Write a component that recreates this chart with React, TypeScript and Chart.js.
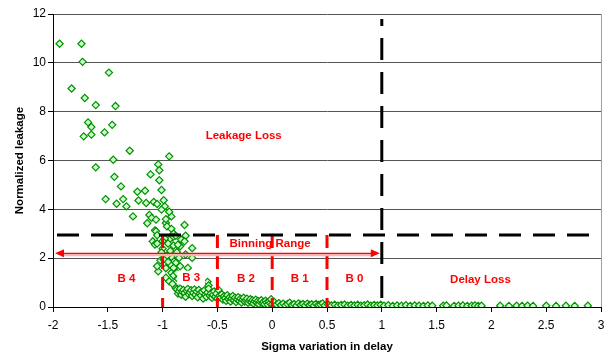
import React, { useEffect, useRef } from 'react';
import { Chart, registerables } from 'chart.js';
Chart.register(...registerables);

// ---------- data (sigma, normalized leakage) ----------
const tailPoints: [number, number][] = [
  [-1.94, 10.78], [-1.74, 10.78], [-1.73, 10.04], [-1.49, 9.6], [-1.83, 8.95], [-1.71, 8.56],
  [-1.61, 8.27], [-1.43, 8.23], [-1.68, 7.56], [-1.65, 7.37], [-1.72, 6.99], [-1.65, 7.06],
  [-1.53, 7.15], [-1.46, 7.46], [-1.3, 6.4], [-1.45, 6.03], [-0.94, 6.17], [-1.61, 5.72],
  [-1.04, 5.84], [-1.03, 5.6], [-1.11, 5.43], [-1.44, 5.33], [-1.38, 4.94], [-1.03, 5.19],
  [-1.01, 4.79], [-1.23, 4.72], [-1.16, 4.76], [-1.52, 4.42], [-1.36, 4.42], [-1.22, 4.36],
  [-1.42, 4.23], [-1.33, 4.12], [-1.15, 4.26], [-1.08, 4.3], [-1.05, 4.22], [-0.99, 4.37],
  [-0.98, 4.12], [-1.01, 3.99], [-1.27, 3.71], [-1.12, 3.77], [-1.1, 3.65], [-1.06, 3.58],
  [-1.14, 3.43], [-0.92, 3.71], [-0.97, 3.44], [-0.96, 3.3], [-1.07, 3.14], [-0.8, 3.36],
  [-0.97, 3.6], [-0.94, 3.9], [-0.92, 3.2],
];

const kneePoints: [number, number][] = [
  [-0.9, 3.0], [-0.79, 2.92], [-1.06, 3.1], [-1.05, 2.94], [-1.09, 2.69], [-1.07, 2.56],
  [-1.05, 2.6], [-1.0, 2.39], [-1.01, 2.24], [-1.02, 1.91], [-1.04, 1.46], [-0.97, 1.59],
  [-0.91, 2.85], [-0.88, 2.92], [-0.83, 2.76], [-0.94, 2.76], [-0.9, 2.52], [-0.84, 2.49],
  [-0.8, 2.69], [-0.73, 2.41], [-0.79, 2.15], [-0.73, 2.01], [-0.85, 2.01], [-0.92, 2.05],
  [-0.88, 1.81], [-0.84, 1.67], [-0.77, 1.6], [-0.93, 1.74], [-0.92, 1.4], [-0.9, 1.29],
  [-0.88, 0.78], [-0.8, 0.47], [-0.59, 1.03], [-0.58, 0.88], [-1.05, 1.67], [-0.98, 2.8],
  [-0.95, 2.6], [-0.93, 2.3], [-0.96, 2.1], [-0.99, 1.95], [-0.87, 2.25], [-0.86, 2.55],
  [-0.95, 1.85], [-0.9, 1.6], [-0.97, 1.2], [-0.94, 1.05], [-0.91, 0.95], [-0.85, 0.8],
  [-0.86, 1.15], [-0.87, 1.4], [-1.0, 2.7],
];

const bandPoints: [number, number][] = [
  [-0.87, 0.72], [-0.86, 0.55], [-0.85, 0.65], [-0.84, 0.75], [-0.83, 0.5], [-0.82, 0.62],
  [-0.81, 0.7], [-0.8, 0.58], [-0.79, 0.42], [-0.78, 0.66], [-0.77, 0.74], [-0.76, 0.52],
  [-0.75, 0.6], [-0.74, 0.69], [-0.73, 0.45], [-0.72, 0.58], [-0.71, 0.72], [-0.7, 0.5],
  [-0.69, 0.63], [-0.68, 0.4], [-0.67, 0.7], [-0.66, 0.55], [-0.65, 0.47], [-0.64, 0.62],
  [-0.63, 0.35], [-0.62, 0.68], [-0.61, 0.5], [-0.6, 0.42], [-0.59, 0.6], [-0.58, 0.75],
  [-0.57, 0.46], [-0.56, 0.55], [-0.55, 0.38], [-0.54, 0.5], [-0.53, 0.64], [-0.52, 0.42],
  [-0.51, 0.55], [-0.5, 0.35], [-0.49, 0.7], [-0.48, 0.46], [-0.47, 0.38], [-0.46, 0.52],
  [-0.45, 0.3], [-0.44, 0.44], [-0.43, 0.36], [-0.42, 0.25], [-0.41, 0.48], [-0.4, 0.33],
  [-0.39, 0.4], [-0.38, 0.22], [-0.37, 0.35], [-0.36, 0.45], [-0.35, 0.28], [-0.34, 0.38],
  [-0.33, 0.2], [-0.32, 0.32], [-0.31, 0.4], [-0.3, 0.25], [-0.29, 0.34], [-0.28, 0.18],
  [-0.27, 0.3], [-0.26, 0.38], [-0.25, 0.22], [-0.24, 0.28], [-0.23, 0.34], [-0.22, 0.17],
  [-0.21, 0.26], [-0.2, 0.32], [-0.19, 0.2], [-0.18, 0.28], [-0.17, 0.14], [-0.16, 0.24],
  [-0.15, 0.3], [-0.14, 0.18], [-0.13, 0.25], [-0.12, 0.12], [-0.11, 0.22], [-0.1, 0.28],
  [-0.09, 0.16], [-0.08, 0.21], [-0.07, 0.12], [-0.06, 0.26], [-0.05, 0.18], [-0.04, 0.1],
  [-0.03, 0.22], [-0.02, 0.15], [-0.01, 0.32], [0.0, 0.12],
];

const flatPoints: [number, number][] = [
  [0.02, 0.2], [0.04, 0.1], [0.06, 0.16], [0.08, 0.08], [0.1, 0.14], [0.12, 0.06],
  [0.14, 0.12], [0.16, 0.18], [0.18, 0.08], [0.2, 0.12], [0.22, 0.05], [0.24, 0.15],
  [0.26, 0.09], [0.28, 0.12], [0.3, 0.06], [0.32, 0.14], [0.34, 0.08], [0.36, 0.11],
  [0.38, 0.05], [0.4, 0.13], [0.42, 0.08], [0.44, 0.1], [0.46, 0.15], [0.48, 0.06],
  [0.51, 0.1], [0.54, 0.06], [0.57, 0.09], [0.6, 0.05], [0.63, 0.08], [0.66, 0.1],
  [0.69, 0.05], [0.72, 0.08], [0.75, 0.06], [0.78, 0.09], [0.81, 0.05], [0.84, 0.07],
  [0.87, 0.1], [0.9, 0.05], [0.93, 0.08], [0.96, 0.06], [0.99, 0.09],
  [1.02, 0.05], [1.06, 0.07], [1.1, 0.04], [1.14, 0.06], [1.18, 0.05], [1.22, 0.07],
  [1.26, 0.04], [1.3, 0.06], [1.34, 0.05], [1.38, 0.04], [1.42, 0.06], [1.46, 0.05],
  [1.56, 0.05], [1.59, 0.06], [1.66, 0.04], [1.7, 0.05], [1.74, 0.06], [1.78, 0.04],
  [1.82, 0.05], [1.85, 0.06], [1.88, 0.04], [1.91, 0.05],
  [2.08, 0.05], [2.16, 0.04], [2.23, 0.05], [2.28, 0.04], [2.33, 0.05], [2.38, 0.04],
  [2.5, 0.05], [2.59, 0.04], [2.68, 0.05], [2.76, 0.04], [2.88, 0.05],
];

// ---------- annotation values ----------
const LEAKAGE_LIMIT = 2.95;
const DELAY_LIMIT = 1;
const BIN_EDGES = [-1, -0.5, 0, 0.5];
const ARROW_Y = 2.2;
const ARROW_FROM = -2;
const ARROW_TO = 1;
const LABELS: { text: string; x: number; y: number; box?: boolean }[] = [
  { text: 'Leakage Loss', x: -0.26, y: 7.0 },
  { text: 'Binning Range', x: -0.02, y: 2.6 },
  { text: 'B 4', x: -1.33, y: 1.15 },
  { text: 'B 3', x: -0.74, y: 1.2, box: true },
  { text: 'B 2', x: -0.24, y: 1.15 },
  { text: 'B 1', x: 0.25, y: 1.15 },
  { text: 'B 0', x: 0.75, y: 1.15 },
  { text: 'Delay Loss', x: 1.9, y: 1.12 },
];

const FONT = "'Liberation Sans', Arial, sans-serif";

const annotPlugin = {
  id: 'annot',
  afterDatasetsDraw(chart: any) {
    const { ctx, chartArea, scales } = chart;
    const { left, right, top, bottom } = chartArea;
    const xs = scales.x;
    const ys = scales.y;
    ctx.save();

    // right plot border
    ctx.strokeStyle = '#a0a0a0';
    ctx.lineWidth = 1;
    ctx.setLineDash([]);
    ctx.beginPath();
    ctx.moveTo(Math.round(right) + 0.5, top);
    ctx.lineTo(Math.round(right) + 0.5, bottom);
    ctx.stroke();

    // red dashed bin edges
    const yLim = ys.getPixelForValue(LEAKAGE_LIMIT);
    ctx.strokeStyle = '#ff0000';
    ctx.lineWidth = 3;
    ctx.setLineDash([13, 8]);
    for (const v of BIN_EDGES) {
      const px = xs.getPixelForValue(v);
      ctx.beginPath();
      ctx.moveTo(px, yLim);
      ctx.lineTo(px, bottom);
      ctx.stroke();
    }

    // black dashed limits
    ctx.strokeStyle = '#000';
    ctx.lineWidth = 3;
    ctx.setLineDash([22, 12]);
    ctx.beginPath();
    ctx.moveTo(left + 4, yLim);
    ctx.lineTo(right, yLim);
    ctx.stroke();
    const xLim = xs.getPixelForValue(DELAY_LIMIT);
    ctx.lineDashOffset = 15;
    ctx.beginPath();
    ctx.moveTo(xLim, top + 5);
    ctx.lineTo(xLim, bottom);
    ctx.stroke();
    ctx.lineDashOffset = 0;

    // binning range arrow
    const ay = ys.getPixelForValue(ARROW_Y);
    const ax0 = xs.getPixelForValue(ARROW_FROM) + 2;
    const ax1 = xs.getPixelForValue(ARROW_TO) - 2;
    ctx.setLineDash([]);
    ctx.strokeStyle = '#ffb0b0';
    ctx.lineWidth = 3;
    ctx.beginPath();
    ctx.moveTo(ax0 + 6, ay + 1.5);
    ctx.lineTo(ax1 - 6, ay + 1.5);
    ctx.stroke();
    ctx.strokeStyle = '#ff0000';
    ctx.lineWidth = 1.3;
    ctx.beginPath();
    ctx.moveTo(ax0 + 4, ay);
    ctx.lineTo(ax1 - 4, ay);
    ctx.stroke();
    ctx.fillStyle = '#ff0000';
    ctx.beginPath();
    ctx.moveTo(ax0, ay);
    ctx.lineTo(ax0 + 9, ay - 4);
    ctx.lineTo(ax0 + 9, ay + 4);
    ctx.closePath();
    ctx.fill();
    ctx.beginPath();
    ctx.moveTo(ax1, ay);
    ctx.lineTo(ax1 - 9, ay - 4);
    ctx.lineTo(ax1 - 9, ay + 4);
    ctx.closePath();
    ctx.fill();

    // labels
    ctx.font = `bold 11.5px ${FONT}`;
    ctx.textAlign = 'center';
    ctx.textBaseline = 'middle';
    for (const l of LABELS) {
      const px = xs.getPixelForValue(l.x);
      const py = ys.getPixelForValue(l.y);
      if (l.box) {
        const w = ctx.measureText(l.text).width;
        ctx.fillStyle = '#fff';
        ctx.fillRect(px - w / 2 - 5, py - 7, w + 10, 14);
      }
      ctx.fillStyle = '#ff0000';
      ctx.fillText(l.text, px, py);
    }
    ctx.restore();
  },
};

export default function App() {
  const ref = useRef<HTMLCanvasElement>(null);
  useEffect(() => {
    document.body.style.margin = '0';
    const all = [...tailPoints, ...kneePoints, ...bandPoints, ...flatPoints];
    const chart = new Chart(ref.current as HTMLCanvasElement, {
      type: 'scatter',
      data: {
        datasets: [
          {
            data: all.map(([x, y]) => ({ x, y })),
            pointStyle: 'rectRot',
            pointRadius: 3.6,
            pointBorderWidth: 1.2,
            backgroundColor: '#ccffcc',
            borderColor: '#009000',
          },
        ],
      },
      options: {
        animation: false,
        responsive: false,
        maintainAspectRatio: false,
        layout: { padding: { top: 14, right: 12, left: 0, bottom: 0 } },
        plugins: { legend: { display: false }, tooltip: { enabled: false } },
        scales: {
          x: {
            type: 'linear',
            min: -2,
            max: 3,
            ticks: {
              stepSize: 0.5,
              color: '#000',
              font: { family: FONT, size: 12 },
              padding: 6,
              maxRotation: 0,
              callback: (v: any) => String(v),
            },
            grid: { drawOnChartArea: false, tickLength: 5, tickColor: '#000' },
            border: { color: '#000', width: 1 },
            title: {
              display: true,
              text: 'Sigma variation in delay',
              color: '#000',
              font: { family: FONT, size: 11.5, weight: 'bold' },
              padding: { top: 0, bottom: 2.4 },
            },
            afterFit: (s: any) => {
              s.height = 49;
            },
          },
          y: {
            min: 0,
            max: 12,
            ticks: {
              stepSize: 2,
              color: '#000',
              font: { family: FONT, size: 12 },
              padding: 2,
            },
            grid: { color: '#555', lineWidth: 1, tickLength: 5, tickColor: '#000' },
            border: { color: '#000', width: 1 },
            title: {
              display: true,
              text: 'Normalized leakage',
              color: '#000',
              font: { family: FONT, size: 11.5, weight: 'bold' },
              padding: { top: 13.2, bottom: 0 },
            },
            afterFit: (s: any) => {
              s.width = 53;
            },
          },
        },
      } as any,
      plugins: [annotPlugin],
    });
    return () => chart.destroy();
  }, []);
  return (
    <div style={{ position: 'absolute', left: 0, top: 0, width: 613, height: 356 }}>
      <canvas ref={ref} width={613} height={356} style={{ width: 613, height: 356 }} />
    </div>
  );
}
